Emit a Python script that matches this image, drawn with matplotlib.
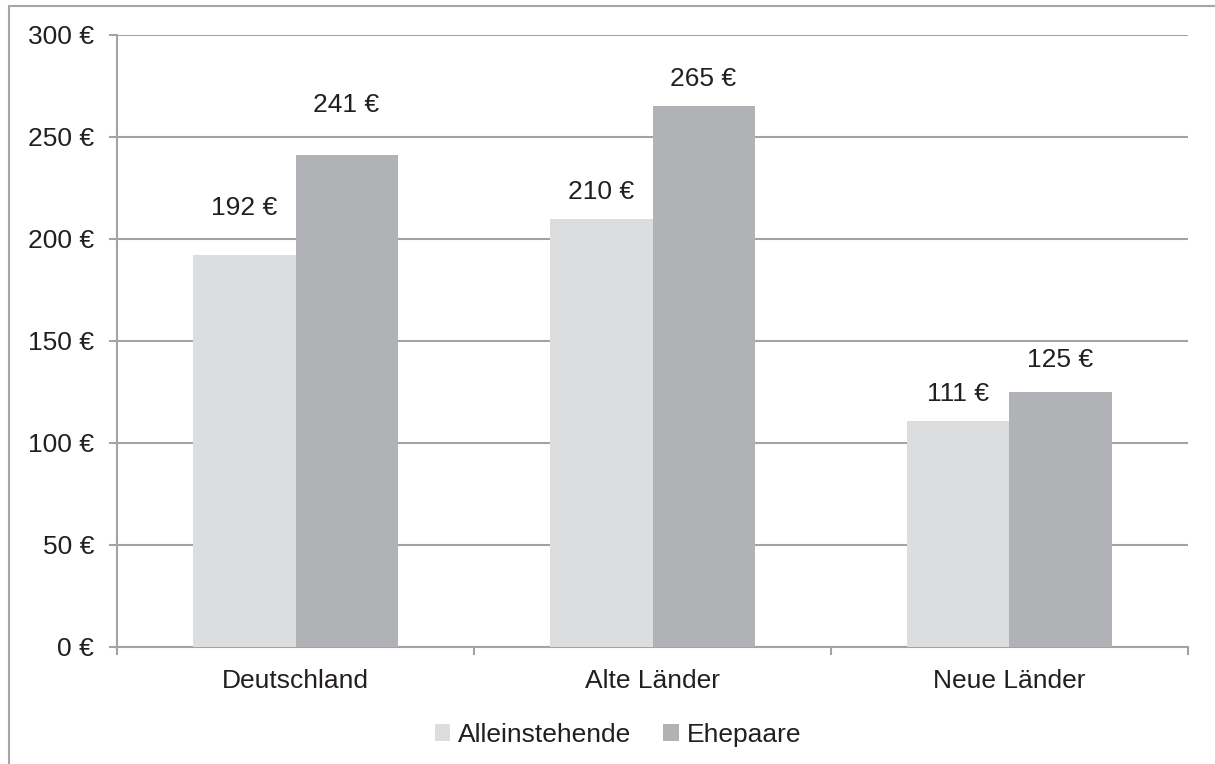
import numpy as np
import matplotlib
matplotlib.use('Agg')
import matplotlib.pyplot as plt
from matplotlib.patches import Rectangle, Patch
from matplotlib.ticker import FuncFormatter

plt.rcParams['font.family'] = ['Liberation Sans', 'DejaVu Sans']

# data
categories = ['Deutschland', 'Alte Länder', 'Neue Länder']
series_names = ['Alleinstehende', 'Ehepaare']
alleinstehende = [192, 210, 111]
ehepaare = [241, 265, 125]

# layout bits
colors = ['#dcdddf', '#b1b2b5']
label_offsets = [[47, 27, 27], [50, 27, 32]]  # px above bar top
text_col = '#231f20'
grid_col = '#a3a3a3'
fs = 19

fig = plt.figure(figsize=(12.15, 7.64), dpi=100)
ax = fig.add_axes([117 / 1215, 1 - 647 / 764, (1188 - 117) / 1215, (647 - 35) / 764])

# outer frame (left and top edge visible)
fig.patches.append(Rectangle((9 / 1215, -0.1), 1.2, 1 - 6 / 764 + 0.1,
                             transform=fig.transFigure, fill=False,
                             edgecolor='#a6a6a6', linewidth=1.5, zorder=0))

x = np.arange(len(categories))
w = 0.286
values = [alleinstehende, ehepaare]
for i, vals in enumerate(values):
    pos = x + (i - 0.5) * w
    ax.bar(pos, vals, width=w, color=colors[i], zorder=3, label=series_names[i])
    for j, (p, v) in enumerate(zip(pos, vals)):
        ax.annotate(f'{v} €', (p, v), xytext=(0, label_offsets[i][j] * 0.72),
                    textcoords='offset points', ha='center', va='center',
                    fontsize=fs, color=text_col)

ax.set_xlim(-0.5, 2.5)
ax.set_ylim(0, 300)
ax.set_yticks(np.arange(0, 301, 50))
ax.yaxis.set_major_formatter(FuncFormatter(lambda v, _: f'{int(v)} €'))
ax.grid(axis='y', color=grid_col, linewidth=1.5, zorder=0)
ax.set_axisbelow(True)

# category boundary ticks (major) and centered labels (minor)
ax.set_xticks([-0.5, 0.5, 1.5, 2.5])
ax.set_xticklabels([])
ax.set_xticks(x, minor=True)
ax.set_xticklabels(categories, minor=True)
ax.tick_params(axis='x', which='major', length=5.5, width=1.5, color=grid_col)
ax.tick_params(axis='x', which='minor', length=0, pad=16, labelsize=fs, labelcolor=text_col)
ax.tick_params(axis='y', length=5.5, width=1.5, color=grid_col, pad=11,
               labelsize=fs, labelcolor=text_col)

for s in ['top', 'right']:
    ax.spines[s].set_visible(False)
for s in ['left', 'bottom']:
    ax.spines[s].set_color(grid_col)
    ax.spines[s].set_linewidth(1.5)

handles = [Patch(facecolor=c, edgecolor='none') for c in colors]
fig.legend(handles, series_names, loc='center', bbox_to_anchor=(618 / 1215, 1 - 735 / 764),
           ncol=2, frameon=False, fontsize=fs, handlelength=0.6, handleheight=0.6,
           handletextpad=0.3, columnspacing=1.2, labelcolor=text_col)

fig.savefig('out.png', dpi=100)
